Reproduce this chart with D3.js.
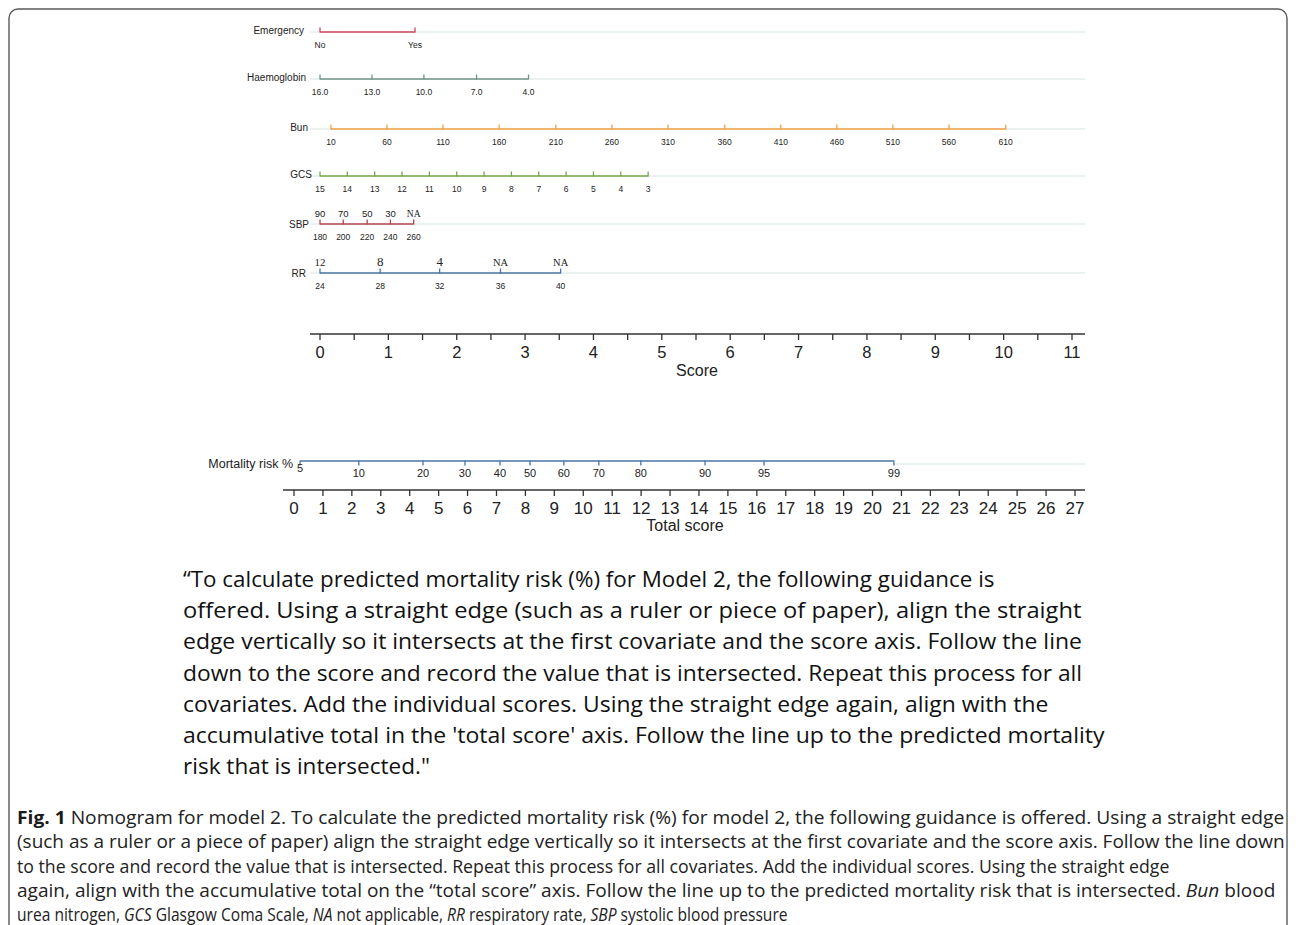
<!DOCTYPE html>
<html><head><meta charset="utf-8">
<script src="https://cdn.jsdelivr.net/npm/d3@7"></script>
<style>body{margin:0;background:#fff}svg{display:block}</style>
</head><body>
<script>
// ---- data ----
const scoreTicks = [0,1,2,3,4,5,6,7,8,9,10,11];
const scoreMinor = [0,0.5,1,1.5,2,2.5,3,3.5,4,4.5,5,5.5,6,6.5,7,7.5,8,8.5,9,9.5,10,10.5,11];
const emergencyLabels = ["No","Yes"];
const emergencyPoints = [0,1.39];
const haemoglobinLabels = ["16.0","13.0","10.0","7.0","4.0"];
const haemoglobinPoints = [0,0.76,1.52,2.29,3.05];
const bunLabels = ["10","60","110","160","210","260","310","360","410","460","510","560","610"];
const bunPoints = [0.16,0.98,1.80,2.62,3.45,4.27,5.09,5.92,6.74,7.56,8.38,9.20,10.03];
const gcsLabels = ["15","14","13","12","11","10","9","8","7","6","5","4","3"];
const gcsPoints = [0,0.4,0.8,1.2,1.6,2.0,2.4,2.8,3.2,3.6,4.0,4.4,4.8];
const sbpTopLabels = ["90","70","50","30","NA"];
const sbpBottomLabels = ["180","200","220","240","260"];
const sbpPoints = [0,0.34,0.69,1.03,1.37];
const rrTopLabels = ["12","8","4","NA","NA"];
const rrBottomLabels = ["24","28","32","36","40"];
const rrPoints = [0,0.88,1.75,2.64,3.52];
const totalTicks = [0,1,2,3,4,5,6,7,8,9,10,11,12,13,14,15,16,17,18,19,20,21,22,23,24,25,26,27];
const riskLabels = ["5","10","20","30","40","50","60","70","80","90","95","99"];
const riskPoints = [0.21,2.24,4.46,5.91,7.12,8.16,9.33,10.54,11.99,14.21,16.25,20.74];

const quoteLines = [
 "\u201CTo calculate predicted mortality risk (%) for Model 2, the following guidance is",
 "offered. Using a straight edge (such as a ruler or piece of paper), align the straight",
 "edge vertically so it intersects at the first covariate and the score axis. Follow the line",
 "down to the score and record the value that is intersected. Repeat this process for all",
 "covariates. Add the individual scores. Using the straight edge again, align with the",
 "accumulative total in the 'total score' axis. Follow the line up to the predicted mortality",
 "risk that is intersected.\""
];
const quoteWidths = [812,899,899,900,866,922,247];

const captionLines = [
 [["b","Fig. 1"],["n"," Nomogram for model 2. To calculate the predicted mortality risk (%) for model 2, the following guidance is offered. Using a straight edge"]],
 [["n","(such as a ruler or a piece of paper) align the straight edge vertically so it intersects at the first covariate and the score axis. Follow the line down"]],
 [["n","to the score and record the value that is intersected. Repeat this process for all covariates. Add the individual scores. Using the straight edge"]],
 [["n","again, align with the accumulative total on the \u201Ctotal score\u201D axis. Follow the line up to the predicted mortality risk that is intersected. "],["i","Bun"],["n"," blood"]],
 [["n","urea nitrogen, "],["i","GCS"],["n"," Glasgow Coma Scale, "],["i","NA"],["n"," not applicable, "],["i","RR"],["n"," respiratory rate, "],["i","SBP"],["n"," systolic blood pressure"]]
];
const captionWidths = [1268,1268,1153,1259,771];

// ---- drawing ----
const W = 1296, H = 925;
const svg = d3.select("body").append("svg").attr("width",W).attr("height",H);
const sans = "'Liberation Sans', Arial, sans-serif";
const serif = "'Liberation Serif', 'Times New Roman', serif";
const bodyFont = "'Open Sans','Noto Sans',sans-serif";

svg.append("rect").attr("x",9).attr("y",9).attr("width",1278).attr("height",930)
  .attr("rx",9).attr("fill","none").attr("stroke","#5a5a5a").attr("stroke-width",1.4);

const x = d3.scaleLinear().domain([0,11]).range([320,1072]);
const xt = d3.scaleLinear().domain([0,27]).range([294,1075]);
const lightColor = "#e2eded";

function row(cfg){
  const g = svg.append("g");
  g.append("line").attr("x1",310).attr("x2",1085).attr("y1",cfg.y).attr("y2",cfg.y)
    .attr("stroke",lightColor).attr("stroke-width",1.5);
  const p = cfg.points;
  g.append("line").attr("x1",x(p[0])).attr("x2",x(p[p.length-1])).attr("y1",cfg.y).attr("y2",cfg.y)
    .attr("stroke",cfg.color).attr("stroke-width",1.5);
  g.selectAll("line.t").data(p).join("line").attr("class","t")
    .attr("x1",d=>x(d)).attr("x2",d=>x(d)).attr("y1",cfg.y-4.5).attr("y2",cfg.y+0.5)
    .attr("stroke",cfg.color).attr("stroke-width",1.3);
  g.append("text").attr("x",cfg.labelX).attr("y",cfg.y+(cfg.labelDy||2)).attr("text-anchor","end")
    .attr("font-family",sans).attr("font-size",10).attr("fill","#222").text(cfg.name);
  g.selectAll("text.b").data(cfg.labels).join("text").attr("class","b")
    .attr("x",(d,i)=>x(p[i])).attr("y",cfg.y+16).attr("text-anchor","middle")
    .attr("font-family",sans).attr("font-size",8.5).attr("fill","#222").text(d=>d);
  if(cfg.top){
    g.selectAll("text.tp").data(cfg.top).join("text").attr("class","tp")
      .attr("x",(d,i)=>x(p[i])).attr("y",cfg.y-7).attr("text-anchor","middle")
      .attr("font-family",d=>d==="NA"||cfg.topSerif?serif:sans)
      .attr("font-size",(d,i)=>cfg.topSizes?cfg.topSizes[i]:9.5).attr("fill","#222").text(d=>d);
  }
}

row({name:"Emergency",y:32,labelX:304,color:"#d4435f",points:emergencyPoints,labels:emergencyLabels});
row({name:"Haemoglobin",y:79,labelX:306,color:"#6f9488",points:haemoglobinPoints,labels:haemoglobinLabels});
row({name:"Bun",y:129,labelX:308,color:"#f3a049",points:bunPoints,labels:bunLabels});
row({name:"GCS",y:176,labelX:312,color:"#77a84a",points:gcsPoints,labels:gcsLabels});
row({name:"SBP",y:224,labelX:309,color:"#b8434f",points:sbpPoints,labels:sbpBottomLabels,top:sbpTopLabels,labelDy:4});
row({name:"RR",y:273,labelX:306,color:"#4a76a6",points:rrPoints,labels:rrBottomLabels,top:rrTopLabels,topSerif:true,topSizes:[11,13,13,10.5,10.5],labelDy:4});

// Score axis
const sa = svg.append("g");
sa.append("line").attr("x1",310).attr("x2",1085).attr("y1",334).attr("y2",334).attr("stroke","#333").attr("stroke-width",1.6);
sa.selectAll("line.t").data(scoreMinor).join("line").attr("class","t")
  .attr("x1",d=>x(d)).attr("x2",d=>x(d)).attr("y1",334).attr("y2",340).attr("stroke","#333").attr("stroke-width",1.3);
sa.selectAll("text").data(scoreTicks).join("text")
  .attr("x",d=>x(d)).attr("y",358).attr("text-anchor","middle")
  .attr("font-family",sans).attr("font-size",16.5).attr("fill","#222").text(d=>d);
svg.append("text").attr("x",697).attr("y",376).attr("text-anchor","middle")
  .attr("font-family",sans).attr("font-size",16).attr("fill","#222").text("Score");

// Mortality risk
const mr = svg.append("g");
mr.append("line").attr("x1",xt(riskPoints[riskPoints.length-1])).attr("x2",1085).attr("y1",464).attr("y2",464)
  .attr("stroke",lightColor).attr("stroke-width",1.5);
mr.append("line").attr("x1",xt(riskPoints[0])).attr("x2",xt(riskPoints[riskPoints.length-1])).attr("y1",461).attr("y2",461)
  .attr("stroke","#4a76a6").attr("stroke-width",1.5);
mr.selectAll("line.t").data(riskPoints).join("line").attr("class","t")
  .attr("x1",d=>xt(d)).attr("x2",d=>xt(d)).attr("y1",460.5).attr("y2",465.5).attr("stroke","#4a76a6").attr("stroke-width",1.3);
mr.selectAll("text").data(riskLabels).join("text")
  .attr("x",(d,i)=>xt(riskPoints[i])).attr("y",(d,i)=>i===0?472:477).attr("text-anchor","middle")
  .attr("font-family",sans).attr("font-size",11).attr("fill","#222").text(d=>d);
svg.append("text").attr("x",293).attr("y",468).attr("text-anchor","end")
  .attr("font-family",sans).attr("font-size",12.5).attr("fill","#222").text("Mortality risk %");

// Total score axis
const ta = svg.append("g");
ta.append("line").attr("x1",283).attr("x2",1085).attr("y1",490).attr("y2",490).attr("stroke","#333").attr("stroke-width",1.6);
ta.selectAll("line.t").data(totalTicks).join("line").attr("class","t")
  .attr("x1",d=>xt(d)).attr("x2",d=>xt(d)).attr("y1",490).attr("y2",496).attr("stroke","#333").attr("stroke-width",1.3);
ta.selectAll("text").data(totalTicks).join("text")
  .attr("x",d=>xt(d)).attr("y",514).attr("text-anchor","middle")
  .attr("font-family",sans).attr("font-size",17).attr("fill","#222").text(d=>d);
svg.append("text").attr("x",685).attr("y",531).attr("text-anchor","middle")
  .attr("font-family",sans).attr("font-size",16).attr("fill","#222").text("Total score");

// fit a text element horizontally to a target width with a scale transform
function fit(t, x0, y0, target){
  const w = t.node().getComputedTextLength();
  const sx = w > 0 ? target / w : 1;
  t.attr("transform", `translate(${x0},${y0}) scale(${sx},1)`);
}

// Quote text
quoteLines.forEach((s,i)=>{
  const t = svg.append("text").attr("x",0).attr("y",0)
    .attr("font-family",bodyFont).attr("font-size",22.5).attr("fill","#111").text(s);
  fit(t, 183, 587+i*31.2, quoteWidths[i]);
});

// Caption
captionLines.forEach((parts,i)=>{
  const t = svg.append("text").attr("x",0).attr("y",0)
    .attr("font-family",bodyFont).attr("font-size",17.5).attr("fill","#222");
  parts.forEach(([k,s])=>{
    const ts = t.append("tspan").text(s);
    if(k==="b") ts.attr("font-weight","bold").attr("fill","#1a1a1a");
    if(k==="i") ts.attr("font-style","italic");
  });
  fit(t, 17, 824+i*24.3, captionWidths[i]);
});
</script>
</body></html>
